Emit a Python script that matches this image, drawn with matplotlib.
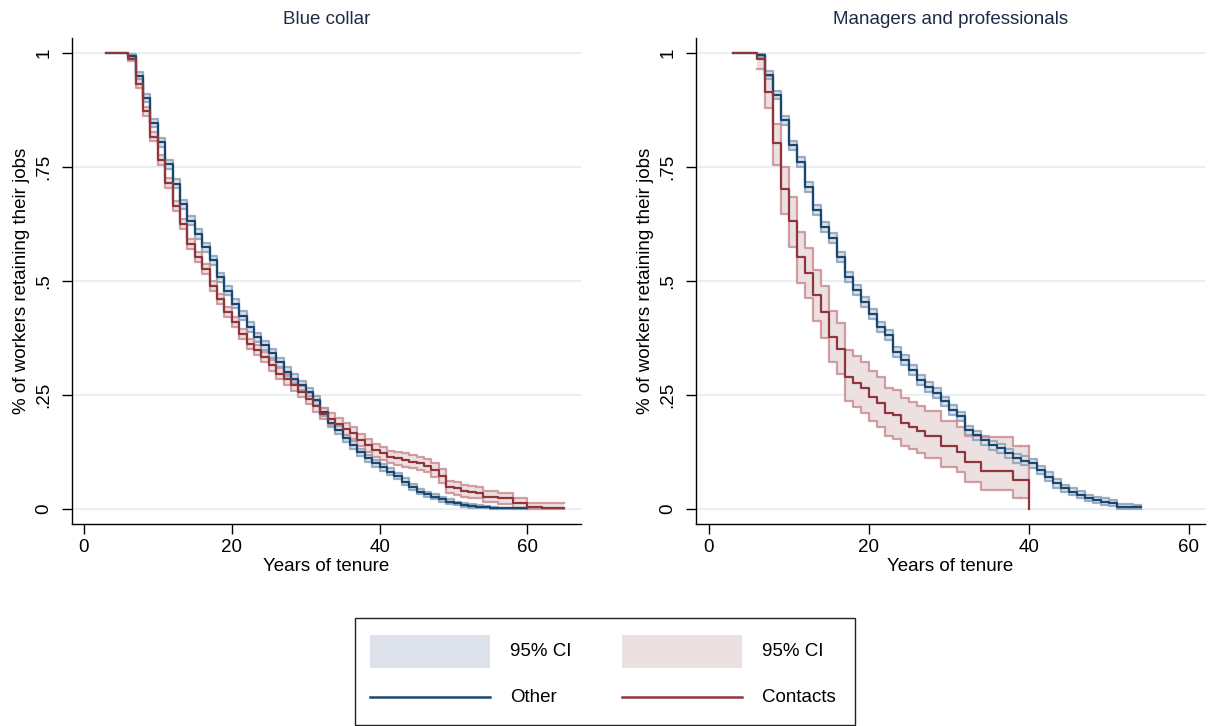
import numpy as np
import matplotlib
matplotlib.use("Agg")
import matplotlib.pyplot as plt
from matplotlib.patches import Rectangle
from matplotlib.lines import Line2D

plt.rcParams['font.family'] = ['Liberation Sans', 'DejaVu Sans']

# ---------------- data ----------------
# Blue collar, "Other"
bc_other_t = [3] + list(range(6, 61))
bc_other_s = [1.0, 0.993, 0.950, 0.902, 0.847, 0.804, 0.756, 0.713, 0.668, 0.632,
              0.603, 0.574, 0.545, 0.508, 0.479, 0.450, 0.424, 0.399, 0.377, 0.359,
              0.341, 0.322, 0.301, 0.286, 0.271, 0.257, 0.238, 0.212, 0.188, 0.173,
              0.155, 0.140, 0.124, 0.111, 0.100, 0.091, 0.082, 0.072, 0.060, 0.048,
              0.038, 0.032, 0.027, 0.021, 0.016, 0.012, 0.009, 0.006, 0.005, 0.004,
              0.002, 0.001, 0.001, 0.001, 0.001, 0.001]
bc_other_ci = [0.0, 0.004, 0.008, 0.009, 0.009, 0.010, 0.010, 0.010, 0.010, 0.010,
               0.010, 0.010, 0.010, 0.010, 0.010, 0.010, 0.010, 0.010, 0.010, 0.010,
               0.010, 0.010, 0.010, 0.009, 0.009, 0.009, 0.009, 0.009, 0.009, 0.009,
               0.008, 0.008, 0.008, 0.008, 0.008, 0.007, 0.007, 0.007, 0.007, 0.006,
               0.006, 0.006, 0.005, 0.005, 0.005, 0.004, 0.004, 0.004, 0.003, 0.003,
               0.003, 0.002, 0.002, 0.002, 0.002, 0.002]

# Blue collar, "Contacts"
bc_cont_t = [3] + list(range(6, 66))
bc_cont_s = [1.0, 0.988, 0.933, 0.872, 0.816, 0.765, 0.714, 0.665, 0.625, 0.581,
             0.552, 0.527, 0.488, 0.461, 0.431, 0.410, 0.384, 0.362, 0.348, 0.333,
             0.315, 0.297, 0.284, 0.271, 0.257, 0.242, 0.225, 0.209, 0.198, 0.187,
             0.176, 0.166, 0.151, 0.140, 0.129, 0.122, 0.114, 0.111, 0.108, 0.104,
             0.100, 0.095, 0.085, 0.072, 0.048, 0.045, 0.040, 0.038, 0.036, 0.027,
             0.027, 0.023, 0.023, 0.013, 0.013, 0.005, 0.004, 0.003, 0.003, 0.003,
             0.003]
bc_cont_ci = [0.0, 0.005, 0.010, 0.010, 0.010, 0.011, 0.011, 0.011, 0.011, 0.011,
              0.011, 0.011, 0.011, 0.011, 0.011, 0.011, 0.011, 0.011, 0.011, 0.011,
              0.012, 0.012, 0.012, 0.012, 0.012, 0.012, 0.012, 0.012, 0.013, 0.013,
              0.013, 0.013, 0.013, 0.014, 0.014, 0.014, 0.014, 0.014, 0.015, 0.015,
              0.015, 0.015, 0.015, 0.015, 0.014, 0.014, 0.013, 0.013, 0.013, 0.012,
              0.012, 0.012, 0.012, 0.010, 0.010, 0.009, 0.009, 0.009, 0.009, 0.009,
              0.009]

# Managers and professionals, "Other"
mp_other_t = [3] + list(range(6, 55))
mp_other_s = [1.0, 0.995, 0.952, 0.908, 0.853, 0.798, 0.762, 0.707, 0.656, 0.619,
              0.594, 0.553, 0.508, 0.480, 0.453, 0.427, 0.400, 0.382, 0.345, 0.327,
              0.305, 0.283, 0.268, 0.254, 0.236, 0.217, 0.203, 0.173, 0.162, 0.151,
              0.140, 0.133, 0.122, 0.111, 0.106, 0.100, 0.085, 0.071, 0.056, 0.045,
              0.038, 0.031, 0.024, 0.020, 0.016, 0.013, 0.005, 0.005, 0.004, 0.004]
mp_other_ci = [0.0, 0.004, 0.008, 0.009, 0.010, 0.010, 0.011, 0.011, 0.011, 0.011,
               0.011, 0.011, 0.011, 0.011, 0.011, 0.011, 0.011, 0.011, 0.011, 0.011,
               0.011, 0.011, 0.011, 0.011, 0.010, 0.010, 0.010, 0.010, 0.010, 0.010,
               0.010, 0.010, 0.010, 0.010, 0.010, 0.010, 0.009, 0.009, 0.009, 0.008,
               0.008, 0.008, 0.007, 0.007, 0.007, 0.007, 0.005, 0.005, 0.005, 0.005]

# Managers and professionals, "Contacts"
mp_cont_t = [3] + list(range(6, 41))
mp_cont_s = [1.0, 0.986, 0.915, 0.802, 0.701, 0.632, 0.553, 0.518, 0.469, 0.433,
             0.378, 0.351, 0.290, 0.277, 0.265, 0.246, 0.233, 0.211, 0.205, 0.188,
             0.180, 0.170, 0.159, 0.159, 0.137, 0.137, 0.124, 0.104, 0.104, 0.084,
             0.084, 0.084, 0.084, 0.064, 0.064, 0.0]
mp_cont_lo = [1.0, 0.965, 0.879, 0.754, 0.648, 0.575, 0.495, 0.462, 0.412, 0.376,
              0.322, 0.296, 0.236, 0.223, 0.211, 0.193, 0.180, 0.160, 0.154, 0.138,
              0.131, 0.122, 0.111, 0.111, 0.092, 0.092, 0.080, 0.060, 0.060, 0.042,
              0.042, 0.042, 0.042, 0.023, 0.023, 0.023]
mp_cont_hi = [1.0, 0.995, 0.950, 0.845, 0.750, 0.685, 0.608, 0.573, 0.525, 0.490,
              0.435, 0.408, 0.348, 0.335, 0.322, 0.302, 0.290, 0.266, 0.260, 0.243,
              0.235, 0.225, 0.214, 0.214, 0.192, 0.192, 0.180, 0.160, 0.160, 0.158,
              0.158, 0.158, 0.158, 0.137, 0.137, 0.137]

panel_titles = ["Blue collar", "Managers and professionals"]
yticks = [0, 0.25, 0.5, 0.75, 1]
ytick_labels = ["0", ".25", ".5", ".75", "1"]
xticks = [0, 20, 40, 60]
legend_labels = ["95% CI", "95% CI", "Other", "Contacts"]

# ---------------- style ----------------
BLUE = '#1a476f'
RED = '#90353b'
BLUE_FILL = '#dde2ea'
RED_FILL = '#ece0e1'
BLUE_EDGE = '#8aa2bb'
RED_EDGE = '#c98e94'
GRID = '#e9f0f1'
TITLE_C = '#1e2b48'

W, H = 1209, 726
fig = plt.figure(figsize=(W / 100, H / 100), dpi=100)
fig.patch.set_facecolor('white')


def fx(px):
    return px / W


def fy(py):
    return 1 - py / H


ax_w = 509
ax_top, ax_bot = 38, 524
axL = fig.add_axes([fx(72), fy(ax_bot), fx(ax_w), (ax_bot - ax_top) / H])
axR = fig.add_axes([fx(696), fy(ax_bot), fx(ax_w), (ax_bot - ax_top) / H])


def draw_ci(ax, t, lo, hi, fill, edge):
    t = np.asarray(t[1:], float)
    lo = np.asarray(lo[1:], float)
    hi = np.asarray(hi[1:], float)
    ax.fill_between(t, lo, hi, step='post', color=fill, lw=0, zorder=2)
    ax.step(t, lo, where='post', color=edge, lw=1.6, alpha=0.85, zorder=3)
    ax.step(t, hi, where='post', color=edge, lw=1.6, alpha=0.85, zorder=3)


def draw_km(ax, t, s, color):
    ax.step(t, s, where='post', color=color, lw=1.6, zorder=5)


def sym_ci(s, w):
    s = np.asarray(s, float)
    w = np.asarray(w, float)
    return np.clip(s - w, 0, 1), np.clip(s + w, 0, 1)


lo, hi = sym_ci(bc_other_s, bc_other_ci)
draw_ci(axL, bc_other_t, lo, hi, BLUE_FILL, BLUE_EDGE)
lo, hi = sym_ci(bc_cont_s, bc_cont_ci)
draw_ci(axL, bc_cont_t, lo, hi, RED_FILL, RED_EDGE)
draw_km(axL, bc_other_t, bc_other_s, BLUE)
draw_km(axL, bc_cont_t, bc_cont_s, RED)

lo, hi = sym_ci(mp_other_s, mp_other_ci)
draw_ci(axR, mp_other_t, lo, hi, BLUE_FILL, BLUE_EDGE)
draw_ci(axR, mp_cont_t[:-1], mp_cont_lo[:-1], mp_cont_hi[:-1], RED_FILL, RED_EDGE)
# extend the final CI block of contacts to the last failure time
axR.fill_between([mp_cont_t[-2], mp_cont_t[-1]], [mp_cont_lo[-1]] * 2, [mp_cont_hi[-1]] * 2,
                 color=RED_FILL, lw=0, zorder=2)
axR.plot([mp_cont_t[-2], mp_cont_t[-1]], [mp_cont_lo[-1]] * 2, color=RED_EDGE, lw=1.6, alpha=0.85, zorder=3)
axR.plot([mp_cont_t[-2], mp_cont_t[-1]], [mp_cont_hi[-1]] * 2, color=RED_EDGE, lw=1.6, alpha=0.85, zorder=3)
axR.plot([mp_cont_t[-1]] * 2, [mp_cont_lo[-1], mp_cont_hi[-1]], color=RED_EDGE, lw=1.6, alpha=0.85, zorder=3)
draw_km(axR, mp_other_t, mp_other_s, BLUE)
draw_km(axR, mp_cont_t, mp_cont_s, RED)

xlims = [(-1.62, 67.25), (-1.62, 62.0)]
for ax, title, xl in zip([axL, axR], panel_titles, xlims):
    ax.set_xlim(*xl)
    ax.set_ylim(-0.033, 1.033)
    for yv in yticks:
        ax.axhline(yv, color=GRID, lw=1.4, zorder=1)
    ax.set_yticks(yticks)
    ax.set_yticklabels(ytick_labels, rotation=90, va='center')
    ax.set_xticks(xticks)
    ax.tick_params(axis='both', direction='out', length=7, width=1.0, color='black',
                   labelsize=13.5)
    ax.tick_params(axis='x', pad=4)
    ax.tick_params(axis='y', pad=7)
    for sp in ['top', 'right']:
        ax.spines[sp].set_visible(False)
    for sp in ['left', 'bottom']:
        ax.spines[sp].set_linewidth(1.0)
    ax.set_xlabel("Years of tenure", fontsize=13.5, labelpad=1)
    ax.set_ylabel("% of workers retaining their jobs", fontsize=13.5, labelpad=4)
    ax.set_title(title, fontsize=13.5, color=TITLE_C, pad=10)
    ax.set_facecolor('white')

# ---------------- legend ----------------
lx0, ly0, lx1, ly1 = 355, 618, 855, 725
leg = fig.add_axes([0, 0, 1, 1], zorder=10)
leg.set_xlim(0, W)
leg.set_ylim(H, 0)
leg.axis('off')
leg.add_patch(Rectangle((lx0, ly0), lx1 - lx0, ly1 - ly0, fill=False, ec='#222222', lw=1.0))
leg.add_patch(Rectangle((370, 635), 120, 33, fc=BLUE_FILL, ec='none'))
leg.add_patch(Rectangle((622, 635), 120, 33, fc=RED_FILL, ec='none'))
leg.add_line(Line2D([370, 490], [697, 697], color=BLUE, lw=1.8))
leg.add_line(Line2D([622, 742], [697, 697], color=RED, lw=1.8))
pos = [(510, 652), (762, 652), (510, 697), (762, 697)]
for (x, y), lab in zip(pos, legend_labels):
    leg.text(x, y, lab, fontsize=13.5, va='center', ha='left')

fig.savefig('out.png', dpi=100)
